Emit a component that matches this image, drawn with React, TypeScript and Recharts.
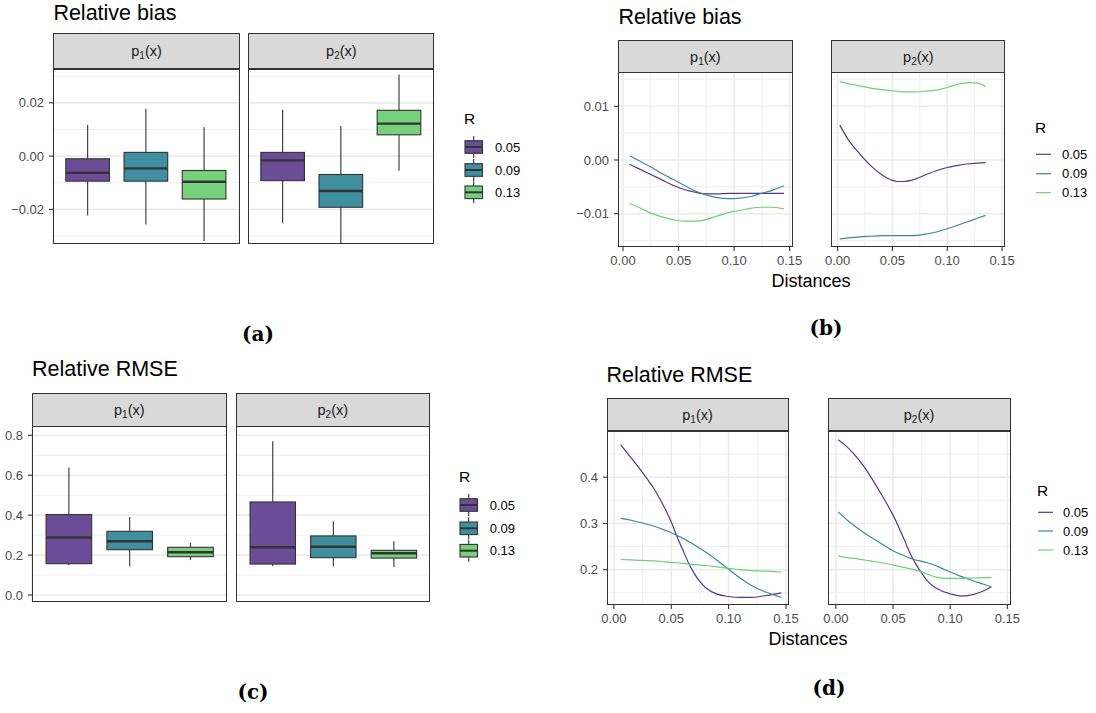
import React from 'react';
import { ComposedChart, LineChart, Bar, Line, XAxis, YAxis, CartesianGrid } from 'recharts';

const rLevels = ['0.05', '0.09', '0.13'];
const boxFills = ['#6B4D97', '#3F8F9E', '#77D17C'];
const lineColors = ['#55398A', '#3A8B9A', '#6DD173'];

// boxplot stats per R level: [lower whisker, Q1, median, Q3, upper whisker]
const biasBoxP1 = [
  [-0.0223, -0.0094, -0.0063, -0.001, 0.0117],
  [-0.0257, -0.0094, -0.0046, 0.0014, 0.0178],
  [-0.0319, -0.0161, -0.0096, -0.0054, 0.0108],
];
const biasBoxP2 = [
  [-0.0252, -0.0092, -0.0016, 0.0014, 0.0174],
  [-0.034, -0.0192, -0.0131, -0.0069, 0.0113],
  [-0.0055, 0.008, 0.0122, 0.0172, 0.0306],
];
const rmseBoxP1 = [
  [0.149, 0.157, 0.288, 0.403, 0.637],
  [0.144, 0.227, 0.269, 0.319, 0.391],
  [0.175, 0.192, 0.214, 0.239, 0.262],
];
const rmseBoxP2 = [
  [0.144, 0.155, 0.239, 0.466, 0.77],
  [0.144, 0.187, 0.242, 0.296, 0.369],
  [0.14, 0.185, 0.209, 0.224, 0.269],
];

// smoothed curves vs distance
const biasDistP1 = [0.006, 0.015, 0.025, 0.035, 0.045, 0.055, 0.065, 0.075, 0.085, 0.095, 0.105, 0.115, 0.125, 0.135, 0.145];
const biasP1R05 = [-0.0008, -0.0017, -0.0027, -0.0037, -0.0047, -0.0055, -0.006, -0.0063, -0.0063, -0.0062, -0.0062, -0.0062, -0.0062, -0.0062, -0.0062];
const biasP1R09 = [0.0008, -0.0002, -0.0013, -0.0025, -0.0036, -0.0047, -0.0058, -0.0065, -0.007, -0.0072, -0.0071, -0.0068, -0.0062, -0.0056, -0.0048];
const biasP1R13 = [-0.0081, -0.0089, -0.0099, -0.0106, -0.0111, -0.0114, -0.0114, -0.0111, -0.0104, -0.0098, -0.0094, -0.009, -0.0088, -0.0088, -0.0091];

const biasDistP2 = [0.002, 0.01, 0.02, 0.03, 0.04, 0.05, 0.055, 0.06, 0.07, 0.08, 0.09, 0.1, 0.11, 0.12, 0.128, 0.135];
const biasP2R05 = [0.0065, 0.0037, 0.0012, -0.001, -0.0027, -0.0038, -0.004, -0.004, -0.0036, -0.0028, -0.002, -0.0014, -0.001, -0.0007, -0.0006, -0.0005];
const biasP2R09 = [-0.0147, -0.0145, -0.0143, -0.0142, -0.0141, -0.0141, -0.0141, -0.0141, -0.0141, -0.0138, -0.0134, -0.0128, -0.0121, -0.0114, -0.0108, -0.0103];
const biasP2R13 = [0.0146, 0.0142, 0.0138, 0.0134, 0.0131, 0.0129, 0.0128, 0.0127, 0.0127, 0.0128, 0.013, 0.0135, 0.0141, 0.0144, 0.0143, 0.0137];

const rmseDistP1 = [0.006, 0.015, 0.025, 0.035, 0.045, 0.05, 0.055, 0.06, 0.065, 0.07, 0.075, 0.08, 0.09, 0.1, 0.11, 0.12, 0.13, 0.14, 0.146];
const rmseP1R05 = [0.47, 0.442, 0.41, 0.375, 0.33, 0.303, 0.272, 0.243, 0.215, 0.192, 0.174, 0.161, 0.147, 0.142, 0.14, 0.14, 0.143, 0.147, 0.15];
const rmseP1R09 = [0.311, 0.307, 0.301, 0.294, 0.285, 0.28, 0.274, 0.268, 0.261, 0.254, 0.246, 0.238, 0.22, 0.201, 0.182, 0.166, 0.154, 0.145, 0.14];
const rmseP1R13 = [0.222, 0.221, 0.22, 0.219, 0.217, 0.216, 0.215, 0.214, 0.212, 0.211, 0.21, 0.209, 0.206, 0.203, 0.2, 0.198, 0.197, 0.196, 0.195];

const rmseDistP2 = [0.002, 0.01, 0.02, 0.03, 0.04, 0.05, 0.06, 0.065, 0.07, 0.075, 0.08, 0.09, 0.1, 0.11, 0.12, 0.13, 0.136];
const rmseP2R05 = [0.481, 0.465, 0.438, 0.403, 0.362, 0.318, 0.264, 0.235, 0.212, 0.193, 0.176, 0.157, 0.148, 0.143, 0.146, 0.155, 0.163];
const rmseP2R09 = [0.325, 0.307, 0.288, 0.271, 0.256, 0.241, 0.23, 0.225, 0.221, 0.218, 0.215, 0.206, 0.195, 0.185, 0.176, 0.168, 0.163];
const rmseP2R13 = [0.23, 0.226, 0.223, 0.219, 0.215, 0.21, 0.205, 0.202, 0.199, 0.195, 0.19, 0.183, 0.181, 0.181, 0.182, 0.183, 0.183];

const distTicks = [0, 0.05, 0.1, 0.15];

const SANS = '"Liberation Sans", Arial, Helvetica, sans-serif';
const GRID = '#EBEBEB';
const DARK = '#333333';
const TICK_FS = 13;

function boxRows(stats: number[][]) {
  return rLevels.map((r, i) => ({
    r,
    lo: stats[i][0],
    q1: stats[i][1],
    med: stats[i][2],
    q3: stats[i][3],
    hi: stats[i][4],
    fill: boxFills[i],
  }));
}

function curveRows(dist: number[], vals: number[]) {
  return dist.map((d, i) => ({ d, v: vals[i] }));
}

// draws whisker + box + median inside the range-bar rectangle (lo..hi)
function BoxShape(props: any) {
  const { x, y, width, height, payload } = props;
  if (!payload) return null;
  const top = Math.min(y, y + height);
  const h = Math.abs(height);
  const py = (v: number) => top + ((payload.hi - v) / (payload.hi - payload.lo)) * h;
  const cx = x + width / 2;
  return (
    <g>
      <line x1={cx} x2={cx} y1={py(payload.hi)} y2={py(payload.lo)} stroke={DARK} strokeWidth={1.1} />
      <rect x={x} y={py(payload.q3)} width={width} height={py(payload.q1) - py(payload.q3)} fill={payload.fill} stroke={DARK} strokeWidth={1.1} />
      <line x1={x} x2={x + width} y1={py(payload.med)} y2={py(payload.med)} stroke={DARK} strokeWidth={2.4} />
    </g>
  );
}

function Txt({ x, y, size, children, anchor = 'start', bold = false, family = SANS, color = '#000' }: any) {
  return (
    <div
      style={{
        position: 'absolute',
        left: x,
        top: y - 0.8465 * size,
        fontSize: size,
        lineHeight: `${size}px`,
        fontFamily: family,
        fontWeight: bold ? 'bold' : 'normal',
        color,
        whiteSpace: 'nowrap',
        transform: anchor === 'middle' ? 'translateX(-50%)' : undefined,
      }}
    >
      {children}
    </div>
  );
}

function Strip({ left, top, w, h, sub }: any) {
  return (
    <div
      style={{
        position: 'absolute',
        left,
        top,
        width: w,
        height: h,
        boxSizing: 'border-box',
        background: '#D9D9D9',
        border: `1.1px solid ${DARK}`,
        display: 'flex',
        alignItems: 'center',
        justifyContent: 'center',
        fontFamily: SANS,
        fontSize: 14.5,
        color: '#1A1A1A',
      }}
    >
      <span>
        p<span style={{ fontSize: 10, position: 'relative', top: 3 }}>{sub}</span>(x)
      </span>
    </div>
  );
}

function Border({ left, top, w, h }: any) {
  return (
    <div
      style={{
        position: 'absolute',
        left,
        top: top - 0.5,
        width: w,
        height: h + 0.5,
        boxSizing: 'border-box',
        border: `1.2px solid ${DARK}`,
        pointerEvents: 'none',
      }}
    />
  );
}

const Y_W = 50;
const tickStyle = { fontSize: TICK_FS, fill: '#4D4D4D', fontFamily: SANS };

function BoxFacet({ stats, left, top, w, h, stripTop, sub, domain, ticks, minor, showY, fmt }: any) {
  const rows = boxRows(stats);
  const padL = showY ? Y_W : 0;
  const pad = w * 0.03125;
  const band = (w - 2 * pad) / 3;
  return (
    <>
      <Strip left={left} top={stripTop} w={w} h={top - stripTop + 0.5} sub={sub} />
      <div style={{ position: 'absolute', left: left - padL, top }}>
        <ComposedChart width={w + padL} height={h} data={rows} margin={{ top: 0, right: 0, bottom: 0, left: 0 }}>
          <CartesianGrid vertical={false} horizontalValues={minor} stroke={GRID} strokeWidth={0.8} />
          <CartesianGrid horizontalValues={ticks} stroke={GRID} strokeWidth={1.6} />
          <XAxis dataKey="r" type="category" height={0} tick={false} axisLine={false} tickLine={false} padding={{ left: pad, right: pad }} />
          <YAxis
            hide={!showY}
            width={Y_W}
            type="number"
            domain={domain}
            ticks={ticks}
            interval={0}
            allowDataOverflow
            axisLine={false}
            tickSize={4}
            tickMargin={5}
            tickLine={{ stroke: DARK, strokeWidth: 1.1 }}
            tick={tickStyle}
            fontSize={TICK_FS}
            tickFormatter={fmt}
          />
          <Bar dataKey={(d: any) => [d.lo, d.hi]} barSize={band * 0.75} shape={<BoxShape />} isAnimationActive={false} />
        </ComposedChart>
      </div>
      <Border left={left} top={top} w={w} h={h} />
    </>
  );
}

function CurveFacet({ dist, series, left, top, w, h, stripTop, sub, xDomain, domain, ticks, minor, showY, fmt }: any) {
  const side = 18;
  const padL = (showY ? Y_W : 0) + side;
  const xh = 24;
  return (
    <>
      <Strip left={left} top={stripTop} w={w} h={top - stripTop + 0.5} sub={sub} />
      <div style={{ position: 'absolute', left: left - padL, top }}>
        <LineChart width={w + padL + side} height={h + xh} margin={{ top: 0, right: side, bottom: 0, left: side }}>
          <CartesianGrid horizontalValues={minor} verticalValues={[0.025, 0.075, 0.125]} stroke={GRID} strokeWidth={0.8} />
          <CartesianGrid horizontalValues={ticks} verticalValues={distTicks} stroke={GRID} strokeWidth={1.6} />
          <XAxis
            dataKey="d"
            type="number"
            domain={xDomain}
            ticks={distTicks}
            interval={0}
            allowDataOverflow
            height={xh}
            axisLine={false}
            tickSize={4}
            tickMargin={5}
            tickLine={{ stroke: DARK, strokeWidth: 1.1 }}
            tick={tickStyle}
            fontSize={TICK_FS}
            tickFormatter={(v: number) => v.toFixed(2)}
          />
          <YAxis
            hide={!showY}
            width={Y_W}
            type="number"
            domain={domain}
            ticks={ticks}
            interval={0}
            allowDataOverflow
            axisLine={false}
            tickSize={4}
            tickMargin={5}
            tickLine={{ stroke: DARK, strokeWidth: 1.1 }}
            tick={tickStyle}
            fontSize={TICK_FS}
            tickFormatter={fmt}
          />
          {series.map((vals: number[], i: number) => (
            <Line
              key={rLevels[i]}
              data={curveRows(dist, vals)}
              dataKey="v"
              type="monotone"
              stroke={lineColors[i]}
              strokeWidth={1.2}
              dot={false}
              activeDot={false}
              isAnimationActive={false}
            />
          ))}
        </LineChart>
      </div>
      <Border left={left} top={top} w={w} h={h} />
    </>
  );
}

function BoxLegend({ x, titleY, keyYs, textX }: any) {
  return (
    <>
      <Txt x={x - 1} y={titleY} size={15.5}>R</Txt>
      <svg style={{ position: 'absolute', left: 0, top: 0, overflow: 'visible' }} width={1} height={1}>
        {keyYs.map((ky: number, i: number) => (
          <g key={i}>
            <line x1={x + 8.7} x2={x + 8.7} y1={ky - 11} y2={ky + 11} stroke={DARK} strokeWidth={1.1} />
            <rect x={x} y={ky - 6.3} width={17.5} height={12.6} fill={boxFills[i]} stroke={DARK} strokeWidth={1.1} />
            <line x1={x} x2={x + 17.5} y1={ky} y2={ky} stroke={DARK} strokeWidth={2} />
          </g>
        ))}
      </svg>
      {keyYs.map((ky: number, i: number) => (
        <Txt key={i} x={textX} y={ky + 4.7} size={13}>{rLevels[i]}</Txt>
      ))}
    </>
  );
}

function LineLegend({ x, titleY, keyYs, textX }: any) {
  return (
    <>
      <Txt x={x - 1} y={titleY} size={15.5}>R</Txt>
      <svg style={{ position: 'absolute', left: 0, top: 0, overflow: 'visible' }} width={1} height={1}>
        {keyYs.map((ky: number, i: number) => (
          <line key={i} x1={x} x2={x + 15} y1={ky} y2={ky} stroke={lineColors[i]} strokeWidth={1.2} />
        ))}
      </svg>
      {keyYs.map((ky: number, i: number) => (
        <Txt key={i} x={textX} y={ky + 4.7} size={13}>{rLevels[i]}</Txt>
      ))}
    </>
  );
}

const fmt2 = (v: number) => (v < 0 ? '\u2212' + Math.abs(v).toFixed(2) : v.toFixed(2));
const fmt1 = (v: number) => v.toFixed(1);

const CAP = '"DejaVu Serif", "Liberation Serif", serif';

export default function App() {
  const biasBoxDomain = [-0.0331, 0.0327];
  const biasTicks = [-0.02, 0, 0.02];
  const biasMinor = [-0.03, -0.01, 0.01, 0.03];
  const rmseBoxDomain = [-0.035, 0.8416];
  const rmseBoxTicks = [0, 0.2, 0.4, 0.6, 0.8];
  const rmseBoxMinor = [0.1, 0.3, 0.5, 0.7];
  const biasLineDomain = [-0.0162, 0.0162];
  const biasLineTicks = [-0.01, 0, 0.01];
  const biasLineMinor = [-0.015, -0.005, 0.005, 0.015];
  const rmseLineDomain = [0.1236, 0.5];
  const rmseLineTicks = [0.2, 0.3, 0.4];
  const rmseLineMinor = [0.15, 0.25, 0.35, 0.45];

  return (
    <div style={{ position: 'absolute', left: 0, top: 0, width: 1096, height: 713, background: '#fff', overflow: 'hidden' }}>
      {/* (a) relative bias boxplots */}
      <Txt x={53.4} y={20.7} size={21.5}>Relative bias</Txt>
      <BoxFacet stats={biasBoxP1} left={53.4} top={69} w={186.3} h={175.3} stripTop={33.3} sub="1"
        domain={biasBoxDomain} ticks={biasTicks} minor={biasMinor} showY fmt={fmt2} />
      <BoxFacet stats={biasBoxP2} left={248.3} top={69} w={186.2} h={175.3} stripTop={33.3} sub="2"
        domain={biasBoxDomain} ticks={biasTicks} minor={biasMinor} showY={false} fmt={fmt2} />
      <BoxLegend x={465} titleY={124} keyYs={[147, 170, 192.3]} textX={495} />
      <Txt x={258} y={341} size={20} bold family={CAP} anchor="middle">(a)</Txt>

      {/* (b) relative bias curves */}
      <Txt x={618.5} y={25} size={21.5}>Relative bias</Txt>
      <CurveFacet dist={biasDistP1} series={[biasP1R05, biasP1R09, biasP1R13]} left={617.8} top={72.7} w={175.2} h={174}
        stripTop={40} sub="1" xDomain={[-0.0045, 0.1532]} domain={biasLineDomain} ticks={biasLineTicks} minor={biasLineMinor} showY fmt={fmt2} />
      <CurveFacet dist={biasDistP2} series={[biasP2R05, biasP2R09, biasP2R13]} left={831.3} top={72.7} w={174.1} h={174}
        stripTop={40} sub="2" xDomain={[-0.006, 0.1528]} domain={biasLineDomain} ticks={biasLineTicks} minor={biasLineMinor} showY={false} fmt={fmt2} />
      <Txt x={811} y={287} size={18} anchor="middle">Distances</Txt>
      <LineLegend x={1036} titleY={133} keyYs={[154.3, 173.7, 192.7]} textX={1062} />
      <Txt x={826} y={335} size={20} bold family={CAP} anchor="middle">(b)</Txt>

      {/* (c) relative RMSE boxplots */}
      <Txt x={32} y={377.3} size={21.5}>Relative RMSE</Txt>
      <BoxFacet stats={rmseBoxP1} left={32} top={426.7} w={194.6} h={175} stripTop={392.7} sub="1"
        domain={rmseBoxDomain} ticks={rmseBoxTicks} minor={rmseBoxMinor} showY fmt={fmt1} />
      <BoxFacet stats={rmseBoxP2} left={235.9} top={426.7} w={193.8} h={175} stripTop={392.7} sub="2"
        domain={rmseBoxDomain} ticks={rmseBoxTicks} minor={rmseBoxMinor} showY={false} fmt={fmt1} />
      <BoxLegend x={460} titleY={481.7} keyYs={[505, 528.3, 550.7]} textX={489.7} />
      <Txt x={253} y={699} size={20} bold family={CAP} anchor="middle">(c)</Txt>

      {/* (d) relative RMSE curves */}
      <Txt x={606.5} y={382.7} size={21.5}>Relative RMSE</Txt>
      <CurveFacet dist={rmseDistP1} series={[rmseP1R05, rmseP1R09, rmseP1R13]} left={606.5} top={431} w={182.1} h={174}
        stripTop={397.7} sub="1" xDomain={[-0.006, 0.1527]} domain={rmseLineDomain} ticks={rmseLineTicks} minor={rmseLineMinor} showY fmt={fmt1} />
      <CurveFacet dist={rmseDistP2} series={[rmseP2R05, rmseP2R09, rmseP2R13]} left={827.5} top={431} w={183.1} h={174}
        stripTop={397.7} sub="2" xDomain={[-0.0069, 0.1533]} domain={rmseLineDomain} ticks={rmseLineTicks} minor={rmseLineMinor} showY={false} fmt={fmt1} />
      <Txt x={808} y={645} size={18} anchor="middle">Distances</Txt>
      <LineLegend x={1038} titleY={496} keyYs={[512.3, 531, 550]} textX={1063} />
      <Txt x={829} y={695} size={20} bold family={CAP} anchor="middle">(d)</Txt>
    </div>
  );
}
